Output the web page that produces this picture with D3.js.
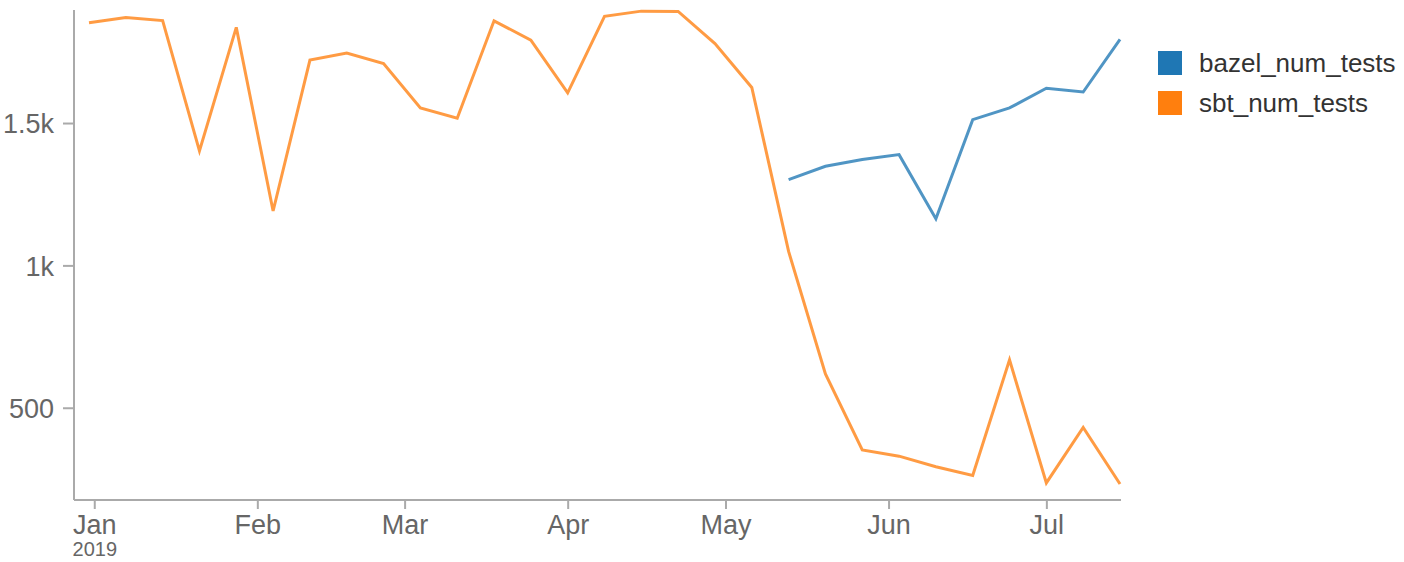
<!DOCTYPE html>
<html>
<head>
<meta charset="utf-8">
<script src="https://cdn.jsdelivr.net/npm/d3@7"></script>
<style>
  body { margin: 0; background: #fff; }
  svg { font-family: "Liberation Sans", Arial, sans-serif; }
</style>
</head>
<body>
<svg id="chart"></svg>
<script>
// weekly dates (Mondays)
const weeks = [
  "2018-12-31", "2019-01-07", "2019-01-14", "2019-01-21", "2019-01-28",
  "2019-02-04", "2019-02-11", "2019-02-18", "2019-02-25", "2019-03-04",
  "2019-03-11", "2019-03-18", "2019-03-25", "2019-04-01", "2019-04-08",
  "2019-04-15", "2019-04-22", "2019-04-29", "2019-05-06", "2019-05-13",
  "2019-05-20", "2019-05-27", "2019-06-03", "2019-06-10", "2019-06-17",
  "2019-06-24", "2019-07-01", "2019-07-08", "2019-07-15"
];
const sbtNumTests = [
  1852, 1871, 1860, 1402, 1836, 1191, 1721, 1746, 1709, 1553,
  1517, 1859, 1791, 1606, 1875, 1893, 1892, 1779, 1625, 1049,
  619, 352, 330, 293, 262, 668, 236, 431, 232
];
const bazelNumTests = [
  null, null, null, null, null, null, null, null, null, null,
  null, null, null, null, null, null, null, null, null, 1301,
  1348, 1372, 1389, 1164, 1512, 1553, 1622, 1609, 1794
];
const seriesNames = ["bazel_num_tests", "sbt_num_tests"];
const seriesColors = ["#1f77b4", "#ff7f0e"];
const yTicks = [500, 1000, 1500];

const W = 1404, H = 562;
const parse = d3.utcParse("%Y-%m-%d");
const dates = weeks.map(parse);

const svg = d3.select("#chart").attr("width", W).attr("height", H);

const x = d3.scaleUtc()
  .domain(d3.extent(dates))
  .range([89, 1120]);
const y = d3.scaleLinear()
  .domain([176, 1897])
  .range([500, 10]);

// axes
const axisColor = "#aaa";
const labelColor = "#666";

const yAxis = svg.append("g")
  .attr("transform", "translate(74,0)")
  .call(d3.axisLeft(y).tickValues(yTicks).tickFormat(d3.format("~s")).tickSize(11).tickPadding(9));
yAxis.select(".domain").attr("d", "M0,10V500").attr("stroke", axisColor).attr("stroke-width", 2);
yAxis.selectAll(".tick line").attr("stroke", axisColor).attr("stroke-width", 2);
yAxis.selectAll(".tick text").attr("fill", labelColor).attr("font-size", 27).attr("dy", "0.36em");

const xAxis = svg.append("g")
  .attr("transform", "translate(0,500)")
  .call(d3.axisBottom(x).ticks(d3.utcMonth.every(1)).tickFormat(d3.utcFormat("%b")).tickSize(9).tickPadding(7));
xAxis.select(".domain").attr("d", "M74,0H1121").attr("stroke", axisColor).attr("stroke-width", 2);
xAxis.selectAll(".tick line").attr("stroke", axisColor).attr("stroke-width", 2);
xAxis.selectAll(".tick text").attr("fill", labelColor).attr("font-size", 27).attr("dy", "0.68em");
xAxis.selectAll(".tick")
  .filter(d => d.getUTCMonth() === 0)
  .append("text")
  .attr("y", 56)
  .attr("fill", labelColor)
  .attr("font-size", 20)
  .attr("text-anchor", "middle")
  .text(d => d.getUTCFullYear());

// lines
const allSeries = [bazelNumTests, sbtNumTests];
const line = d3.line()
  .defined(d => d[1] != null)
  .x(d => x(d[0]))
  .y(d => y(d[1]));

allSeries.forEach((vals, i) => {
  svg.append("path")
    .datum(dates.map((d, j) => [d, vals[j]]))
    .attr("fill", "none")
    .attr("stroke", seriesColors[i])
    .attr("stroke-opacity", 0.78)
    .attr("stroke-width", 3)
    .attr("stroke-linejoin", "miter")
    .attr("d", line);
});

// legend
const legend = svg.append("g").attr("transform", "translate(1158,51)");
seriesNames.forEach((name, i) => {
  const g = legend.append("g").attr("transform", `translate(0,${i * 40})`);
  g.append("rect").attr("width", 24).attr("height", 24).attr("fill", seriesColors[i]);
  g.append("text")
    .attr("x", 41)
    .attr("y", 21)
    .attr("font-size", 26)
    .attr("fill", "#333")
    .text(name);
});
</script>
</body>
</html>
